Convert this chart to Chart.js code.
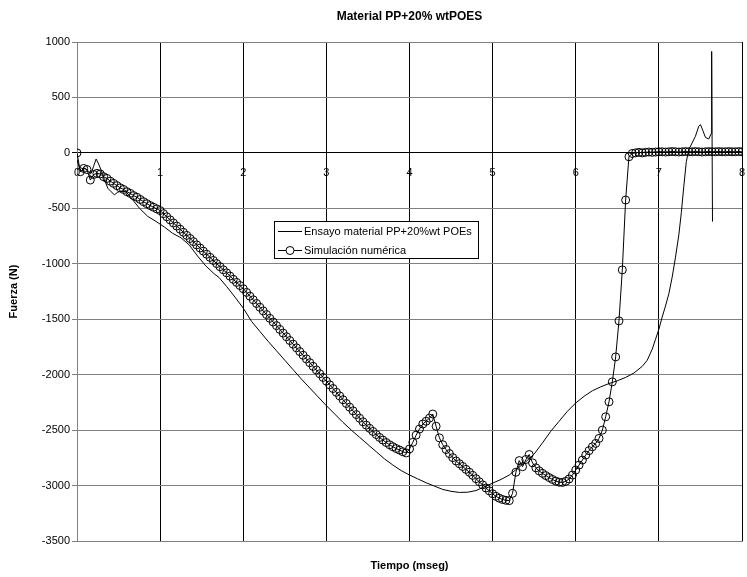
<!DOCTYPE html>
<html>
<head>
<meta charset="utf-8">
<script src="https://cdn.jsdelivr.net/npm/chart.js@4.4.1/dist/chart.umd.min.js"></script>
<style>
  html, body { margin: 0; padding: 0; background: #fff; }
  #wrap { width: 747px; height: 577px; }
</style>
</head>
<body>
<div id="wrap"><canvas id="chart" width="747" height="577"></canvas></div>
<script>
const chartTitle = "Material PP+20% wtPOES";
const xTitle = "Tiempo (mseg)";
const yTitle = "Fuerza (N)";
const seriesNames = ["Ensayo material PP+20%wt POEs", "Simulación numérica"];

// measured test curve: time (ms) and force (N)
const expTime = [
  0.00, 0.03, 0.06, 0.09, 0.13, 0.17, 0.20, 0.23, 0.26, 0.29,
  0.33, 0.37, 0.41, 0.45, 0.49, 0.53, 0.59, 0.67, 0.75, 0.85,
  0.95, 1.05, 1.15, 1.25, 1.35, 1.45, 1.55, 1.65, 1.71, 1.80,
  1.90, 2.00, 2.10, 2.20, 2.30, 2.40, 2.50, 2.60, 2.70, 2.80,
  2.90, 3.00, 3.10, 3.20, 3.30, 3.40, 3.50, 3.60, 3.70, 3.80,
  3.90, 4.00, 4.10, 4.20, 4.30, 4.40, 4.50, 4.60, 4.70, 4.80,
  4.90, 5.00, 5.10, 5.20, 5.30, 5.40, 5.50, 5.60, 5.70, 5.80,
  5.90, 6.00, 6.10, 6.20, 6.30, 6.40, 6.50, 6.60, 6.70, 6.80,
  6.86, 6.92, 6.96, 7.00, 7.04, 7.08, 7.12, 7.16, 7.20, 7.24,
  7.27, 7.30, 7.33, 7.36, 7.40, 7.44, 7.48, 7.50, 7.53, 7.56,
  7.60, 7.63, 7.635, 7.645
];
const expForce = [
  -60, -140, -165, -135, -160, -185, -120, -55, -100, -155,
  -240, -318, -350, -378, -355, -345, -350, -424, -498, -572,
  -618, -668, -725, -765, -830, -930, -1020, -1090, -1125, -1205,
  -1300, -1400, -1520, -1610, -1700, -1785, -1870, -1955, -2040, -2120,
  -2200, -2280, -2355, -2430, -2500, -2565, -2630, -2695, -2760, -2815,
  -2865, -2905, -2940, -2975, -3005, -3035, -3052, -3062, -3060, -3045,
  -3012, -2978, -2945, -2905, -2845, -2785, -2715, -2615, -2510, -2420,
  -2330, -2255, -2195, -2145, -2110, -2080, -2055, -2025, -1985, -1925,
  -1870, -1770, -1680, -1590, -1480, -1380, -1270, -1120, -940, -740,
  -540, -300, -80, 30, 90, 150, 240, 255, 200, 140,
  125, 175, 915, -620
];

// simulation output, one sample every 0.04 ms starting at t = 0
const simStep = 0.04;
const simForce = [
  0, -170, -140, -150, -245, -195, -185, -190, -215, -230,
  -255, -275, -295, -315, -330, -350, -365, -385, -400, -420,
  -440, -458, -475, -490, -505, -520,
  -548, -576, -604, -632, -660, -688, -716, -744, -772, -800,
  -830, -858, -886, -914, -942, -970, -998, -1026, -1054, -1082,
  -1111, -1140, -1168, -1196, -1225,
  -1258, -1292, -1325, -1358, -1392, -1425, -1458, -1492, -1525, -1558,
  -1592, -1625, -1658, -1692, -1725, -1758, -1792, -1825, -1858, -1892,
  -1925, -1958, -1992, -2025, -2058,
  -2092, -2125, -2159, -2192, -2226, -2260, -2293, -2326, -2360, -2393,
  -2425, -2455, -2484, -2512, -2540, -2566, -2590, -2612, -2632, -2650,
  -2666, -2680, -2695, -2706, -2670,
  -2610, -2545, -2490, -2445, -2420, -2392, -2355, -2465, -2570, -2632,
  -2675, -2712, -2748, -2778, -2803, -2828, -2854, -2880, -2908, -2938,
  -2966, -2994, -3022, -3048, -3074,
  -3097, -3114, -3126, -3133, -3136, -3070, -2880, -2775, -2830, -2765,
  -2720, -2795, -2840, -2868, -2890, -2910, -2928, -2945, -2960, -2970,
  -2972, -2962, -2940, -2905, -2860,
  -2815, -2770, -2725, -2685, -2650, -2620, -2575, -2500, -2380, -2245,
  -2065, -1840, -1515, -1055, -425, -35, -5, 0, 5, 0,
  5, 8, 5, 8, 10,
  10, 8, 10, 12, 10, 8, 10, 12, 10, 10,
  12, 10, 8, 10, 12, 10, 10, 12, 10, 10,
  12, 10, 10, 12, 10
];

const xRange = [0, 8, 1];
const yRange = [-3500, 1000, 500];

const FONT = '"Liberation Sans", Arial, sans-serif';
Chart.defaults.font.family = FONT;
Chart.defaults.color = '#000';

const expPoints = expTime.map((t, i) => ({ x: t, y: expForce[i] }));
const simPoints = simForce.map((v, i) => ({ x: +(i * simStep).toFixed(2), y: v }));

// chart title, centred over the plot area
const plotTitle = {
  id: 'plotTitle',
  afterDraw(chart) {
    const { ctx, chartArea } = chart;
    ctx.save();
    ctx.font = 'bold 12px ' + FONT;
    ctx.fillStyle = '#000';
    ctx.textAlign = 'center';
    ctx.textBaseline = 'middle';
    ctx.fillText(chartTitle, (chartArea.left + chartArea.right) / 2, 17);
    ctx.restore();
  }
};

// boxed legend sitting inside the plot
const boxLegend = {
  id: 'boxLegend',
  afterDraw(chart) {
    const ctx = chart.ctx;
    const x0 = 274, y0 = 221, boxH = 37;
    ctx.save();
    ctx.font = '11px ' + FONT;
    const textX = x0 + 30;
    let w = 0;
    chart.data.datasets.forEach(ds => { w = Math.max(w, ctx.measureText(ds.label).width); });
    const boxW = Math.round(textX - x0 + w + 6);
    ctx.fillStyle = '#fff';
    ctx.fillRect(x0, y0, boxW, boxH);
    ctx.strokeStyle = '#000';
    ctx.lineWidth = 1;
    ctx.strokeRect(x0 + 0.5, y0 + 0.5, boxW, boxH);
    chart.data.datasets.forEach((ds, i) => {
      const y = y0 + 10 + i * 19 + 0.5;
      ctx.beginPath();
      ctx.moveTo(x0 + 4, y);
      ctx.lineTo(x0 + 28, y);
      ctx.stroke();
      if (ds.pointRadius > 0) {
        ctx.beginPath();
        ctx.arc(x0 + 16, y, 4, 0, 2 * Math.PI);
        ctx.fillStyle = '#fff';
        ctx.fill();
        ctx.stroke();
      }
      ctx.fillStyle = '#000';
      ctx.textBaseline = 'middle';
      ctx.fillText(ds.label, textX, y + 0.5);
    });
    ctx.restore();
  }
};

new Chart(document.getElementById('chart'), {
  type: 'line',
  data: {
    datasets: [
      {
        label: seriesNames[0],
        data: expPoints,
        borderColor: '#000',
        borderWidth: 1,
        pointRadius: 0,
        tension: 0,
        order: 1
      },
      {
        label: seriesNames[1],
        data: simPoints,
        borderColor: '#000',
        borderWidth: 1,
        pointRadius: 4,
        pointBorderWidth: 1,
        pointBorderColor: '#000',
        pointBackgroundColor: 'rgba(0,0,0,0)',
        tension: 0,
        order: 0
      }
    ]
  },
  options: {
    responsive: false,
    animation: false,
    devicePixelRatio: 1,
    layout: { padding: { left: 0, top: 42, right: 2, bottom: 0 } },
    plugins: {
      legend: { display: false },
      tooltip: { enabled: false },
      title: { display: false }
    },
    scales: {
      x: {
        type: 'linear',
        position: 'bottom',
        min: xRange[0], max: xRange[1],
        ticks: { display: false, stepSize: xRange[2] },
        grid: {
          color: ctx => ctx.tick && ctx.tick.value === 0 ? '#808080' : '#000',
          drawTicks: false
        },
        border: { color: '#808080' },
        title: {
          display: true, text: xTitle,
          font: { size: 11, weight: 'bold' },
          padding: { top: 0, bottom: 4 }
        },
        afterFit(scale) { scale.height = 36; }
      },
      // tick labels of the time axis, hung off the zero-force line
      xLabels: {
        type: 'linear',
        axis: 'x',
        position: { y: 0 },
        min: xRange[0], max: xRange[1],
        ticks: {
          stepSize: xRange[2], padding: 13, font: { size: 11 }, maxRotation: 0,
          callback: v => String(v)
        },
        grid: { display: false, drawTicks: false },
        border: { display: false },
        afterFit(scale) { scale.paddingLeft = 0; scale.paddingRight = 0; }
      },
      y: {
        type: 'linear',
        min: yRange[0], max: yRange[1],
        ticks: { stepSize: yRange[2], padding: 2, font: { size: 11 }, callback: v => String(v) },
        grid: {
          color: ctx => ctx.tick && ctx.tick.value === 0 ? '#000' : '#808080',
          tickLength: 5
        },
        border: { color: '#808080' },
        title: {
          display: true, text: yTitle,
          font: { size: 11, weight: 'bold' },
          padding: { top: 7, bottom: 0 }
        },
        afterFit(scale) { scale.width = 77; }
      }
    }
  },
  plugins: [plotTitle, boxLegend]
});
</script>
</body>
</html>
